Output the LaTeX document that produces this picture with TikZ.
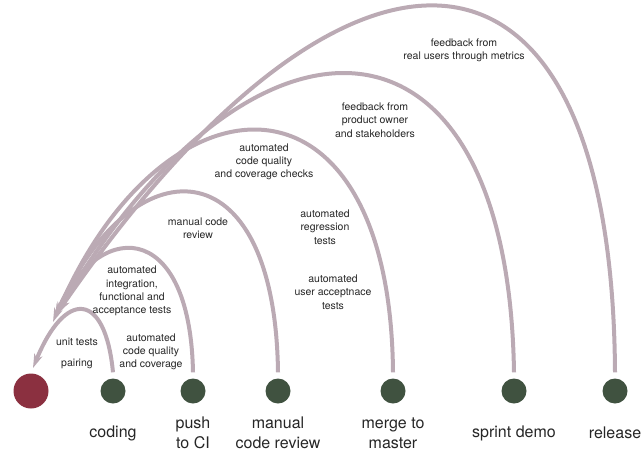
\documentclass[tikz,border=0pt]{standalone}
\usepackage{fontspec}
\setmainfont{TeX Gyre Heros}
\usetikzlibrary{arrows.meta}
\definecolor{arccol}{RGB}{187,170,180}
\definecolor{redc}{RGB}{139,48,64}
\definecolor{greenc}{RGB}{64,82,64}
\tikzset{
  arcline/.style={draw=arccol, line width=4pt, -{Stealth[length=14pt,width=8.5pt,inset=4pt]}},
  stage/.style={circle, fill=greenc, minimum size=25pt, inner sep=0pt},
  startdot/.style={circle, fill=redc, minimum size=35pt, inner sep=0pt},
  small/.style={align=center, font=\fontsize{10.5}{13.3}\selectfont, text=black!85, inner sep=0pt},
  big/.style={align=center, font=\fontsize{16}{20}\selectfont, text=black!85, inner sep=0pt}
}
\begin{document}
\begin{tikzpicture}[x=1pt,y=-1pt]
\useasboundingbox (0,0) rectangle (644,452);
% nodes
\node[startdot] (r) at (31,391) {};
\node[stage] (n1) at (113,391) {};
\node[stage] (n2) at (193,391) {};
\node[stage] (n3) at (278,391) {};
\node[stage] (n4) at (393,391) {};
\node[stage] (n5) at (514,391) {};
\node[stage] (n6) at (615,391) {};
% stage labels
\node[big] (l1) at (113,433) {coding};
\node[big] (l2) at (193,433) {push\\to CI};
\node[big] (l3) at (278,433) {manual\\code review};
\node[big] (l4) at (393,433) {merge to\\master};
\node[big] (l5) at (514,433) {sprint demo};
\node[big] (l6) at (615,433) {release};
% arrow ends
\coordinate (e1) at (33,368);
\coordinate (e2) at (53,322);
\coordinate (e3) at (55,318);
\coordinate (e4) at (56,316);
\coordinate (e5) at (57,314);
\coordinate (e6) at (58,312);
% arcs
\draw[arcline] ([yshift=6pt]n6.north) .. controls (612,-105) and (345,-105) .. (e6);
\draw[arcline] ([yshift=6pt]n5.north) .. controls (508,-15) and (250,-15) .. (e5);
\draw[arcline] ([yshift=6pt]n4.north) .. controls (390,55) and (165,65) .. (e4);
\draw[arcline] ([yshift=6pt]n3.north) .. controls (275,140) and (130,145) .. (e3);
\draw[arcline] ([yshift=6pt]n2.north) .. controls (190,215) and (95,220) .. (e2);
\draw[arcline] ([yshift=6pt]n1.north) .. controls (105,290) and (65,290) .. (e1);
% feedback labels
\node[small] (t1) at (77,342) {unit tests};
\node[small] (t2) at (77,364) {pairing};
\node[small] (t3) at (151,352) {automated\\code quality\\and coverage};
\node[small] (t4) at (132,291) {automated\\integration,\\functional and\\acceptance tests};
\node[small] (t5) at (198,228) {manual code\\review};
\node[small] (t6) at (264,162) {automated\\code quality\\and coverage checks};
\node[small] (t7) at (325,227) {automated\\regression\\tests};
\node[small] (t8) at (333,292) {automated\\user acceptnace\\tests};
\node[small] (t9) at (375,120) {feedback from\\product owner\\and stakeholders};
\node[small] (t10) at (464,50) {feedback from\\real users through metrics};
\end{tikzpicture}
\end{document}
